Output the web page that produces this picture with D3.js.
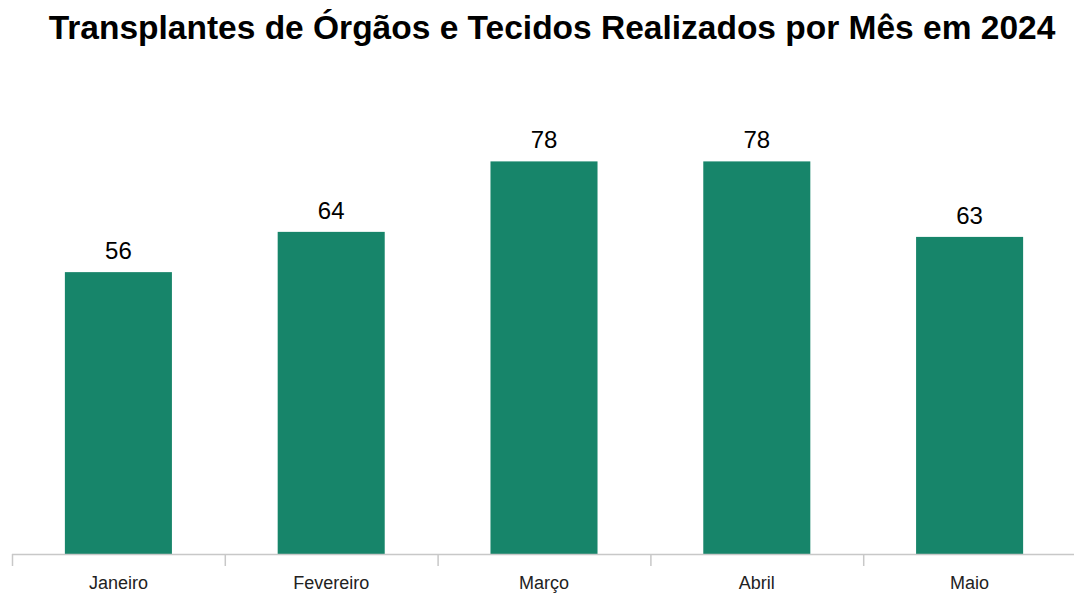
<!DOCTYPE html>
<html>
<head>
<meta charset="utf-8">
<script src="https://cdn.jsdelivr.net/npm/d3@7"></script>
<style>
  body { margin: 0; background: #fff; }
  text { font-family: "Liberation Sans", Arial, sans-serif; }
</style>
</head>
<body>
<div id="chart-area"></div>
<script>
const months = ["Janeiro", "Fevereiro", "Março", "Abril", "Maio"];
const transplants = [56, 64, 78, 78, 63];

const W = 1074, H = 595;
const margin = {top: 101, right: -2, bottom: 41, left: 12};
const width = W - margin.left - margin.right,
  height = H - margin.top - margin.bottom;

const svg = d3.select("#chart-area")
  .append("svg")
  .attr("width", W)
  .attr("height", H);

// title
svg.append("text")
  .attr("x", 552)
  .attr("y", 39)
  .attr("text-anchor", "middle")
  .attr("font-size", "33.5px")
  .attr("font-weight", "bold")
  .attr("fill", "#000")
  .text("Transplantes de Órgãos e Tecidos Realizados por Mês em 2024");

const g = svg.append("g")
  .attr("transform", "translate(" + margin.left + "," + margin.top + ")");

const x = d3.scaleBand()
  .domain(months)
  .range([0, width])
  .padding(0);

const y = d3.scaleLinear()
  .domain([0, 90])
  .range([height, 0]);

const barW = x.step() * 0.503;

// bars
g.selectAll("rect.bar")
  .data(months)
  .enter()
  .append("rect")
  .attr("class", "bar")
  .attr("x", (d) => x(d) + x.bandwidth() / 2 - barW / 2)
  .attr("width", barW)
  .attr("y", (d, i) => y(transplants[i]))
  .attr("height", (d, i) => height - y(transplants[i]))
  .attr("fill", "#17856a");

// value labels
g.selectAll("text.val")
  .data(months)
  .enter()
  .append("text")
  .attr("class", "val")
  .attr("x", (d) => x(d) + x.bandwidth() / 2)
  .attr("y", (d, i) => y(transplants[i]) - 13)
  .attr("text-anchor", "middle")
  .attr("font-size", "24px")
  .attr("fill", "#000")
  .text((d, i) => transplants[i]);

// x axis: line with ticks at band boundaries
const axis = g.append("g")
  .attr("transform", "translate(0," + height + ")");

axis.append("line")
  .attr("x1", 0).attr("x2", width)
  .attr("y1", 0.5).attr("y2", 0.5)
  .attr("stroke", "#c8c8c8")
  .attr("stroke-width", 1.5);

const bounds = months.map(d => x(d));
axis.selectAll("line.tick")
  .data(bounds)
  .enter()
  .append("line")
  .attr("class", "tick")
  .attr("x1", d => d + 0.5)
  .attr("x2", d => d + 0.5)
  .attr("y1", 0)
  .attr("y2", 12)
  .attr("stroke", "#c8c8c8")
  .attr("stroke-width", 1.5);

axis.selectAll("text.cat")
  .data(months)
  .enter()
  .append("text")
  .attr("class", "cat")
  .attr("x", d => x(d) + x.bandwidth() / 2)
  .attr("y", 35)
  .attr("text-anchor", "middle")
  .attr("font-size", "18px")
  .attr("fill", "#222")
  .text(d => d);
</script>
</body>
</html>
